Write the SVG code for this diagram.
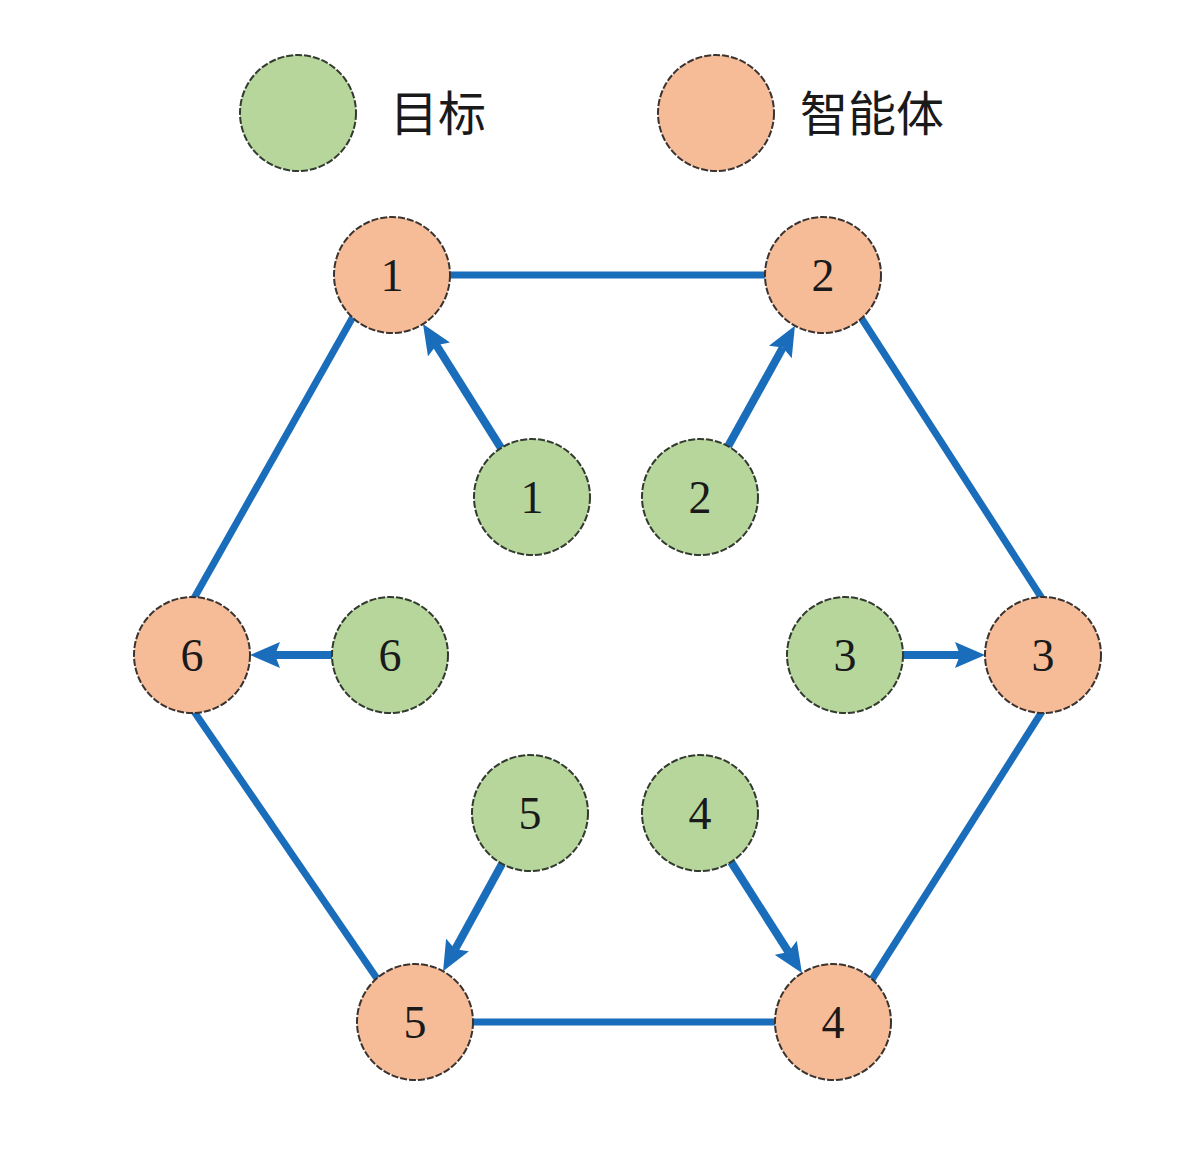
<svg xmlns="http://www.w3.org/2000/svg" width="1188" height="1155" viewBox="0 0 1188 1155">
<style>
.agent{fill:#F6BC98;stroke:#3a3330;stroke-width:2;stroke-dasharray:7 2}
.target{fill:#B6D69C;stroke:#333a30;stroke-width:2;stroke-dasharray:7 2}
.num{font-family:"Liberation Serif","DejaVu Serif",serif;font-size:46px;fill:#1a1a1a;text-anchor:middle}
.leg{font-family:"Noto Sans CJK SC","Noto Sans",sans-serif;font-size:48px;fill:#1a1a1a}
.edge{stroke:#1A6DBA;stroke-width:7;fill:none}
.arrow{stroke:#1A6DBA;stroke-width:8;fill:none;marker-end:url(#ah)}
</style>
<defs>
<marker id="ah" markerUnits="userSpaceOnUse" markerWidth="30" markerHeight="26" refX="5" refY="13" orient="auto">
<path d="M0,0 L30,13 L0,26 L5,13 Z" fill="#1A6DBA"/>
</marker>
</defs>
<rect width="1188" height="1155" fill="#ffffff"/>
<g id="legend">
<circle class="target" cx="298" cy="113" r="58"/>
<text class="leg" x="390" y="131">目标</text>
<circle class="agent" cx="716" cy="113" r="58"/>
<text class="leg" x="800" y="131">智能体</text>
</g>
<g id="connectors">
<line class="edge" x1="440" y1="275" x2="775" y2="275"/>
<line class="edge" x1="860" y1="316" x2="1043" y2="600"/>
<line class="edge" x1="1043" y1="710" x2="871" y2="981"/>
<line class="edge" x1="790" y1="1022" x2="460" y2="1022"/>
<line class="edge" x1="378" y1="980" x2="193" y2="710"/>
<line class="edge" x1="193" y1="600" x2="354" y2="315"/>
<line class="arrow" x1="501" y1="448" x2="436.3" y2="345.2"/>
<line class="arrow" x1="728.1" y1="446.3" x2="782.8" y2="347.6"/>
<line class="arrow" x1="903" y1="655" x2="960" y2="655"/>
<line class="arrow" x1="731.1" y1="862" x2="788.5" y2="952"/>
<line class="arrow" x1="502" y1="863.8" x2="455.1" y2="949.3"/>
<line class="arrow" x1="332" y1="655" x2="275" y2="655"/>
</g>
<g id="agent1"><circle class="agent" cx="392" cy="275" r="58"/><text class="num" x="392" y="291">1</text></g>
<g id="agent2"><circle class="agent" cx="823" cy="275" r="58"/><text class="num" x="823" y="291">2</text></g>
<g id="agent3"><circle class="agent" cx="1043" cy="655" r="58"/><text class="num" x="1043" y="671">3</text></g>
<g id="agent4"><circle class="agent" cx="833" cy="1022" r="58"/><text class="num" x="833" y="1038">4</text></g>
<g id="agent5"><circle class="agent" cx="415" cy="1022" r="58"/><text class="num" x="415" y="1038">5</text></g>
<g id="agent6"><circle class="agent" cx="192" cy="655" r="58"/><text class="num" x="192" y="671">6</text></g>
<g id="target1"><circle class="target" cx="532" cy="497" r="58"/><text class="num" x="532" y="513">1</text></g>
<g id="target2"><circle class="target" cx="700" cy="497" r="58"/><text class="num" x="700" y="513">2</text></g>
<g id="target3"><circle class="target" cx="845" cy="655" r="58"/><text class="num" x="845" y="671">3</text></g>
<g id="target4"><circle class="target" cx="700" cy="813" r="58"/><text class="num" x="700" y="829">4</text></g>
<g id="target5"><circle class="target" cx="530" cy="813" r="58"/><text class="num" x="530" y="829">5</text></g>
<g id="target6"><circle class="target" cx="390" cy="655" r="58"/><text class="num" x="390" y="671">6</text></g>
</svg>
